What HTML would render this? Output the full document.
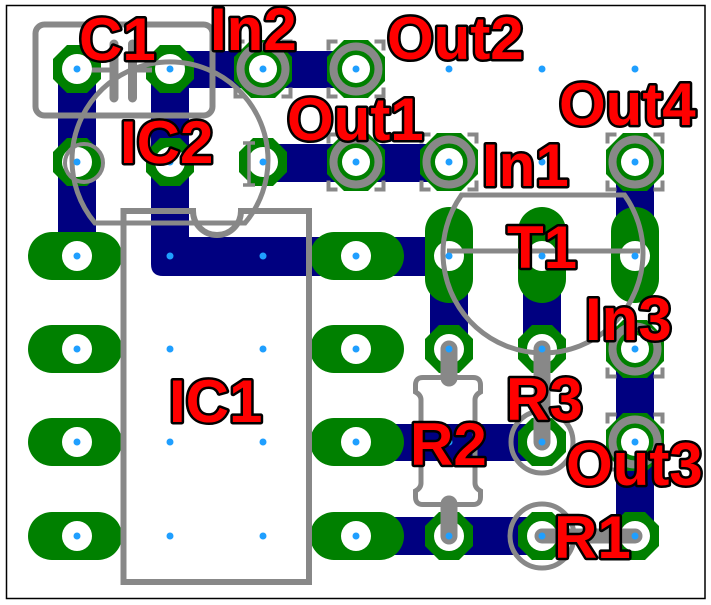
<!DOCTYPE html>
<html><head><meta charset="utf-8"><style>
html,body{margin:0;padding:0;background:#fff;width:711px;height:605px;overflow:hidden}
svg{display:block}
text{font-family:"Liberation Sans",Arial,sans-serif;font-weight:bold;font-size:60px;fill:#ff0000;stroke:#000;stroke-width:5;paint-order:stroke;stroke-linejoin:round}
</style></head><body>
<svg width="711" height="605" viewBox="0 0 711 605" xmlns="http://www.w3.org/2000/svg">
<defs>
 <polygon id="oct" points="24,10 10,24 -10,24 -24,10 -24,-10 -10,-24 10,-24 24,-10" fill="#008000"/>
 <polygon id="octL" points="29,12 12,29 -12,29 -29,12 -29,-12 -12,-29 12,-29 29,-12" fill="#008000"/>
 <g id="conn">
  <polygon points="29,12 12,29 -12,29 -29,12 -29,-12 -12,-29 12,-29 29,-12" fill="#008000"/>
  <circle r="14" fill="#fff"/>
  <circle r="22.5" fill="none" stroke="#888" stroke-width="8"/>
  <path d="M-27.5,-18.5 V-27.5 H-18.5 M18.5,-27.5 H27.5 V-18.5 M27.5,18.5 V27.5 H18.5 M-18.5,27.5 H-27.5 V18.5" fill="none" stroke="#888" stroke-width="4"/>
 </g>
</defs>
<rect x="6.5" y="5.5" width="698.5" height="593" fill="#fff" stroke="#000" stroke-width="1.5"/>

<!-- traces -->
<g fill="#000080">
 <rect x="58" y="69" width="38" height="187"/>
 <path d="M151,69 H189 V237 H356 V276 H163 Q151,276 151,264 Z"/>
 <rect x="170" y="51" width="186" height="37"/>
 <rect x="263" y="144" width="186" height="38"/>
 <rect x="356" y="237" width="93" height="39"/>
 <rect x="430" y="256" width="38" height="93"/>
 <rect x="523" y="256" width="38" height="93"/>
 <rect x="616" y="162" width="38" height="94"/>
 <rect x="616" y="349" width="38" height="187"/>
 <rect x="356" y="424" width="185" height="37"/>
 <rect x="356" y="517" width="185" height="38"/>
</g>

<!-- pads -->
<g fill="#008000">
 <rect x="28" y="232" width="94" height="48" rx="24"/>
 <rect x="28" y="325" width="94" height="48" rx="24"/>
 <rect x="28" y="418" width="94" height="48" rx="24"/>
 <rect x="28" y="512" width="94" height="48" rx="24"/>
 <rect x="310" y="232" width="94" height="48" rx="24"/>
 <rect x="310" y="325" width="94" height="48" rx="24"/>
 <rect x="310" y="418" width="94" height="48" rx="24"/>
 <rect x="310" y="512" width="94" height="48" rx="24"/>
 <rect x="425" y="207" width="48" height="96" rx="24"/>
 <rect x="518" y="207" width="48" height="96" rx="24"/>
 <rect x="611" y="207" width="48" height="96" rx="24"/>
</g>
<use href="#oct" x="77" y="69"/>
<use href="#oct" x="170" y="69"/>
<use href="#oct" x="77" y="162"/>
<use href="#oct" x="170" y="162"/>
<use href="#oct" x="263" y="162"/>
<use href="#oct" x="449" y="349"/>
<use href="#oct" x="542" y="349"/>
<use href="#oct" x="542" y="442"/>
<use href="#oct" x="449" y="536"/>
<use href="#oct" x="542" y="536"/>
<use href="#oct" x="635" y="536"/>

<g fill="#fff">
 <circle cx="77" cy="69" r="15"/><circle cx="170" cy="69" r="15"/>
 <circle cx="77" cy="162" r="15"/><circle cx="170" cy="162" r="15"/><circle cx="263" cy="162" r="15"/>
 <circle cx="77" cy="256" r="15"/><circle cx="77" cy="349" r="15"/><circle cx="77" cy="442" r="15"/><circle cx="77" cy="536" r="15"/>
 <circle cx="356" cy="256" r="15"/><circle cx="356" cy="349" r="15"/><circle cx="356" cy="442" r="15"/><circle cx="356" cy="536" r="15"/>
 <circle cx="449" cy="256" r="15"/><circle cx="542" cy="256" r="15"/><circle cx="635" cy="256" r="15"/>
 <circle cx="449" cy="349" r="15"/><circle cx="542" cy="349" r="15"/><circle cx="542" cy="442" r="15"/>
 <circle cx="449" cy="536" r="15"/><circle cx="542" cy="536" r="15"/><circle cx="635" cy="536" r="15"/>
</g>

<!-- connectors -->
<use href="#conn" x="263" y="69"/>
<use href="#conn" x="356" y="69"/>
<use href="#conn" x="356" y="162"/>
<use href="#conn" x="449" y="162"/>
<use href="#conn" x="635" y="162"/>
<use href="#conn" x="635" y="349"/>
<use href="#conn" x="635" y="442"/>

<!-- silkscreen -->
<g fill="none" stroke="#888">
 <rect x="35.5" y="24.5" width="177" height="91" rx="9" stroke-width="6"/>
 <path d="M92,70 H114 M132.5,70 H152" stroke-width="5"/>
 <path d="M114,44 V98 M132.5,44 V98" stroke-width="9" stroke-linecap="round"/>
 <path d="M95,223 A98,98 0 1 1 245,223 Z" stroke-width="5"/>
 <circle cx="84" cy="163" r="19" stroke-width="4"/>
 <path d="M243,143 H255 M249,143 V185 M243,185 H255" stroke-width="3.5"/>
 <path d="M123.5,211 H193 A24,24 0 0 0 241,211 H309 V582 H123.5 Z" stroke-width="6"/>
 <path d="M461.5,195 H624.5 A100,100 0 1 1 461.5,195 Z" stroke-width="5"/>
 <path d="M447,251 H640" stroke-width="5"/>
 <path d="M449,349 V378 M449,504 V536" stroke-width="17" stroke-linecap="round"/>
 <path d="M423,377.5 H473 Q480.5,377.5 480.5,385 V392 Q475,395 475,400 V483 Q475,488 480.5,491 V497 Q480.5,504.5 473,504.5 H423 Q415.5,504.5 415.5,497 V491 Q421,488 421,483 V400 Q421,395 415.5,392 V385 Q415.5,377.5 423,377.5 Z" stroke-width="5"/>
 <path d="M542,349 V442" stroke-width="17" stroke-linecap="round"/>
 <circle cx="542" cy="442" r="31" stroke-width="5"/>
 <circle cx="542" cy="536" r="32" stroke-width="5"/>
 <path d="M542,536 H635" stroke-width="15" stroke-linecap="round"/>
</g>

<!-- drill dots -->
<g fill="#1f9fff">
 <circle cx="77" cy="69" r="3.5"/><circle cx="170" cy="69" r="3.5"/><circle cx="263" cy="69" r="3.5"/><circle cx="356" cy="69" r="3.5"/><circle cx="449" cy="69" r="3.5"/><circle cx="542" cy="69" r="3.5"/><circle cx="635" cy="69" r="3.5"/>
 <circle cx="77" cy="162" r="3.5"/><circle cx="170" cy="162" r="3.5"/><circle cx="263" cy="162" r="3.5"/><circle cx="356" cy="162" r="3.5"/><circle cx="449" cy="162" r="3.5"/><circle cx="542" cy="162" r="3.5"/><circle cx="635" cy="162" r="3.5"/>
 <circle cx="77" cy="256" r="3.5"/><circle cx="170" cy="256" r="3.5"/><circle cx="263" cy="256" r="3.5"/><circle cx="356" cy="256" r="3.5"/><circle cx="449" cy="256" r="3.5"/><circle cx="542" cy="256" r="3.5"/><circle cx="635" cy="256" r="3.5"/>
 <circle cx="77" cy="349" r="3.5"/><circle cx="170" cy="349" r="3.5"/><circle cx="263" cy="349" r="3.5"/><circle cx="356" cy="349" r="3.5"/><circle cx="449" cy="349" r="3.5"/><circle cx="542" cy="349" r="3.5"/><circle cx="635" cy="349" r="3.5"/>
 <circle cx="77" cy="442" r="3.5"/><circle cx="170" cy="442" r="3.5"/><circle cx="263" cy="442" r="3.5"/><circle cx="356" cy="442" r="3.5"/><circle cx="449" cy="442" r="3.5"/><circle cx="542" cy="442" r="3.5"/><circle cx="635" cy="442" r="3.5"/>
 <circle cx="77" cy="536" r="3.5"/><circle cx="170" cy="536" r="3.5"/><circle cx="263" cy="536" r="3.5"/><circle cx="356" cy="536" r="3.5"/><circle cx="449" cy="536" r="3.5"/><circle cx="542" cy="536" r="3.5"/><circle cx="635" cy="536" r="3.5"/>
</g>

<!-- labels -->
<text x="79" y="60">C1</text>
<text x="210" y="50">In2</text>
<text x="387" y="59">Out2</text>
<text x="120" y="163">IC2</text>
<text x="287" y="140">Out1</text>
<text x="559" y="125">Out4</text>
<text x="482" y="186">In1</text>
<text x="507" y="268">T1</text>
<text x="585" y="340">In3</text>
<text x="169" y="422">IC1</text>
<text x="506" y="420">R3</text>
<text x="410" y="465">R2</text>
<text x="566" y="485">Out3</text>
<text x="554" y="558">R1</text>
</svg>
</body></html>
